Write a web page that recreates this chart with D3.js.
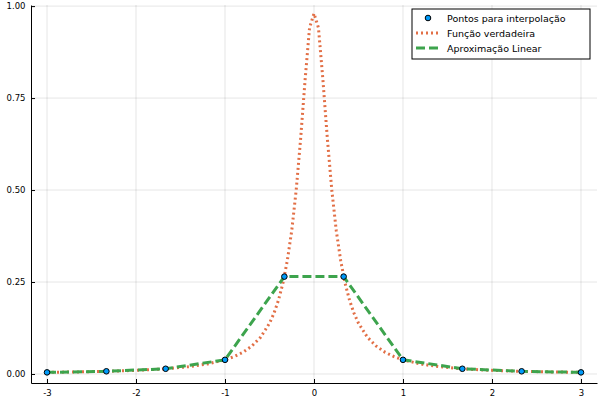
<!DOCTYPE html>
<html><head><meta charset="utf-8">
<script src="https://cdn.jsdelivr.net/npm/d3@7"></script>
<style>body{margin:0;background:#fff}text{font-family:"DejaVu Sans",sans-serif}</style>
</head><body><svg id="c" width="600" height="400"></svg>
<script>
const pointX = [-3, -2.333, -1.667, -1, -0.333, 0.333, 1, 1.667, 2.333, 3];
const pointY = [0.0044, 0.0073, 0.0142, 0.0385, 0.2647, 0.2647, 0.0385, 0.0142, 0.0073, 0.0044];
const trueX = [-3,-2.8,-2.6,-2.4,-2.2,-2,-1.8,-1.6,-1.4,-1.2,-1,-0.9,-0.8,-0.7,-0.6,-0.5,-0.45,-0.4,-0.35,-0.3,-0.25,-0.2,-0.15,-0.1,-0.05,0,0.05,0.1,0.15,0.2,0.25,0.3,0.35,0.4,0.45,0.5,0.6,0.7,0.8,0.9,1,1.2,1.4,1.6,1.8,2,2.2,2.4,2.6,2.8,3];
const trueY = [0.0044,0.0051,0.0059,0.0069,0.0082,0.0099,0.0122,0.0154,0.02,0.027,0.0385,0.0471,0.0588,0.0755,0.1,0.138,0.165,0.2,0.246,0.308,0.39,0.5,0.64,0.8,0.941,0.98,0.941,0.8,0.64,0.5,0.39,0.308,0.246,0.2,0.165,0.138,0.1,0.0755,0.0588,0.0471,0.0385,0.027,0.02,0.0154,0.0122,0.0099,0.0082,0.0069,0.0059,0.0051,0.0044];
const xTicks = [-3,-2,-1,0,1,2,3];
const yTicks = [0,0.25,0.5,0.75,1];
const yLabels = ["0.00","0.25","0.50","0.75","1.00"];
const legendLabels = ["Pontos para interpolação","Função verdadeira","Aproximação Linear"];

const svg = d3.select("#c");
const L=31,R=597,T=5,B=383;
const x = d3.scaleLinear().domain([-3.18,3.18]).range([L,R]);
const y = d3.scaleLinear().domain([-0.0245,1.003]).range([B,T]);
const g = svg.append("g");
xTicks.forEach(t=>g.append("line").attr("x1",x(t)).attr("x2",x(t)).attr("y1",T).attr("y2",B).attr("stroke","#000").attr("stroke-opacity",0.1));
yTicks.forEach(t=>g.append("line").attr("x1",L).attr("x2",R).attr("y1",y(t)).attr("y2",y(t)).attr("stroke","#000").attr("stroke-opacity",0.1));
const xa = svg.append("g").attr("transform",`translate(0,${B})`).call(d3.axisBottom(x).tickValues(xTicks).tickFormat(d=>String(d)).tickSize(-4).tickSizeOuter(0));
const ya = svg.append("g").attr("transform",`translate(${L},0)`).call(d3.axisLeft(y).tickValues(yTicks).tickFormat((d,i)=>yLabels[i]).tickSize(-4).tickSizeOuter(0));
[xa,ya].forEach(a=>{a.selectAll("text").attr("font-size",8.5).attr("fill","#000");a.select(".domain").attr("stroke","#000");});
xa.selectAll("text").attr("dy","1.2em");
ya.selectAll("text").attr("dx","-0.3em");
const line = d3.line().x(d=>x(d[0])).y(d=>y(d[1]));
svg.append("path").datum(trueX.map((v,i)=>[v,trueY[i]])).attr("d",line).attr("fill","none").attr("stroke","#e26f46").attr("stroke-width",3).attr("stroke-dasharray","2,3");
svg.append("path").datum(pointX.map((v,i)=>[v,pointY[i]])).attr("d",line).attr("fill","none").attr("stroke","#3da44d").attr("stroke-width",3).attr("stroke-dasharray","9,4");
svg.selectAll("circle.p").data(pointX).join("circle").attr("cx",d=>x(d)).attr("cy",(d,i)=>y(pointY[i])).attr("r",2.8).attr("fill","#009af9").attr("stroke","#000").attr("stroke-width",1);
const lg = svg.append("g");
lg.append("rect").attr("x",412).attr("y",9).attr("width",178).attr("height",50).attr("fill","#fff").attr("stroke","#000");
lg.append("circle").attr("cx",428).attr("cy",18).attr("r",2.8).attr("fill","#009af9").attr("stroke","#000");
lg.append("line").attr("x1",416).attr("x2",440).attr("y1",33).attr("y2",33).attr("stroke","#e26f46").attr("stroke-width",3).attr("stroke-dasharray","2,3");
lg.append("line").attr("x1",416).attr("x2",440).attr("y1",48).attr("y2",48).attr("stroke","#3da44d").attr("stroke-width",3).attr("stroke-dasharray","9,4");
legendLabels.forEach((s,i)=>lg.append("text").attr("x",447).attr("y",21.5+i*15).attr("font-size",9.5).text(s));
</script></body></html>
